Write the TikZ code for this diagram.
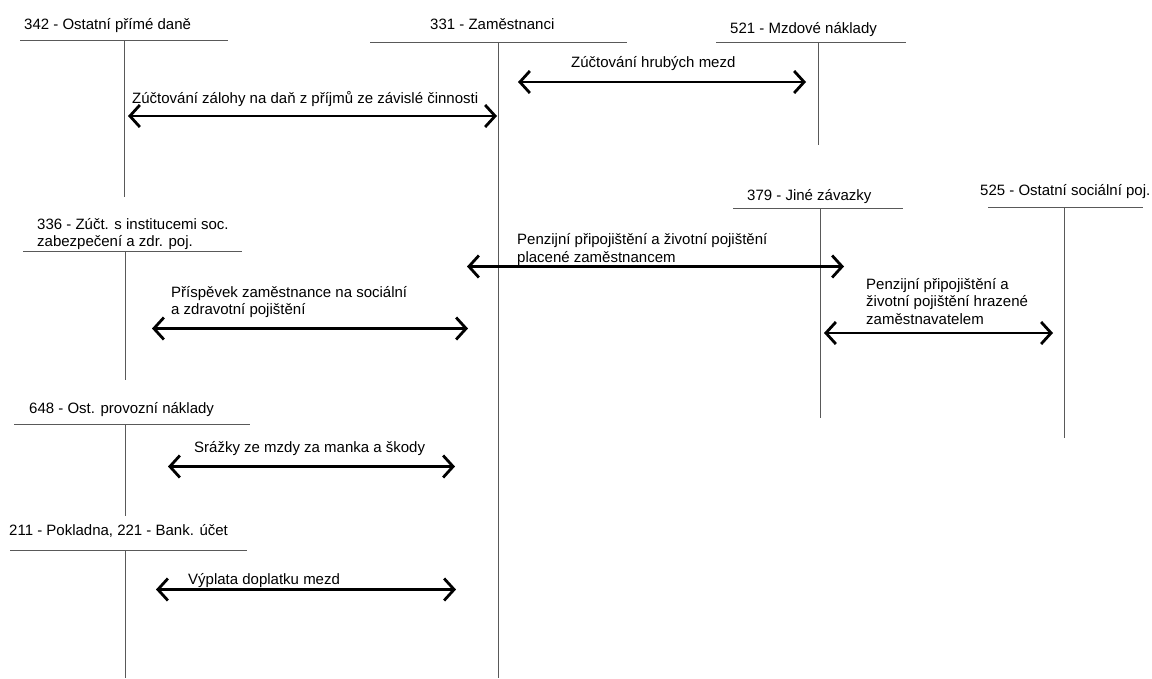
\documentclass[tikz,border=0pt]{standalone}
\usepackage{fontspec}
\setmainfont{Liberation Sans}
\usetikzlibrary{arrows.meta}

\tikzset{
	ucet/.style={draw=black!65,line width=1pt},
	pohyb/.style={line width=2.8pt,{Straight Barb[length=10pt,width=22pt]}-{Straight Barb[length=10pt,width=22pt]}},
	popis/.style={anchor=base west,inner sep=0pt,align=left,font=\fontsize{15}{17.5}\selectfont},
}

\begin{document}
\begin{tikzpicture}[x=1pt,y=-1pt]
	\useasboundingbox (0,0) rectangle (1152,678);
	% ucty
	\node [popis] (u342) at (24,29) {342 - Ostatní přímé daně};
	\draw [ucet] (20,40) -- (228,40) (124,40) -- (124,197);
	\node [popis] (u331) at (430,29) {331 - Zaměstnanci};
	\draw [ucet] (370,42) -- (627,42) (498,42) -- (498,678);
	\node [popis] (u521) at (730,33) {521 - Mzdové náklady};
	\draw [ucet] (716,42) -- (906,42) (818,42) -- (818,145);
	\node [popis] (u336) at (37,246.5) {336 - Zúčt. s institucemi soc.\\zabezpečení a zdr. poj.};
	\draw [ucet] (23,251) -- (242,251) (125,251) -- (125,380);
	\node [popis] (u379) at (747,200.5) {379 - Jiné závazky};
	\draw [ucet] (733,208) -- (903,208) (820,208) -- (820,418);
	\node [popis] (u525) at (980,195.5) {525 - Ostatní sociální poj.};
	\draw [ucet] (988,207) -- (1143,207) (1064,207) -- (1064,438);
	\node [popis] (u648) at (29,413.5) {648 - Ost. provozní náklady};
	\draw [ucet] (14,424) -- (250,424) (125,424) -- (125,516);
	\node [popis] (u211) at (9,535) {211 - Pokladna, 221 - Bank. účet};
	\draw [ucet] (10,550) -- (247,550) (125,550) -- (125,678);
	% pohyby
	\coordinate (a1) at (518,82);
	\coordinate (b1) at (806,82);
	\draw [pohyb] (a1) -- (b1);
	\node [popis] (t1) at (571,67.5) {Zúčtování hrubých mezd};
	\coordinate (a2) at (128,116);
	\coordinate (b2) at (497,116);
	\draw [pohyb] (a2) -- (b2);
	\node [popis] (t2) at (132,103) {Zúčtování zálohy na daň z příjmů ze závislé činnosti};
	\coordinate (a3) at (467,266.5);
	\coordinate (b3) at (844,266.5);
	\draw [pohyb] (a3) -- (b3);
	\node [popis] (t3) at (517,262) {Penzijní připojištění a životní pojištění\\placené zaměstnancem};
	\coordinate (a4) at (152,328.5);
	\coordinate (b4) at (468,328.5);
	\draw [pohyb] (a4) -- (b4);
	\node [popis] (t4) at (171,314.5) {Příspěvek zaměstnance na sociální\\a zdravotní pojištění};
	\coordinate (a5) at (824,333);
	\coordinate (b5) at (1053,333);
	\draw [pohyb] (a5) -- (b5);
	\node [popis] (t5) at (866,324) {Penzijní připojištění a\\životní pojištění hrazené\\zaměstnavatelem};
	\coordinate (a6) at (168,466.5);
	\coordinate (b6) at (455,466.5);
	\draw [pohyb] (a6) -- (b6);
	\node [popis] (t6) at (194,452) {Srážky ze mzdy za manka a škody};
	\coordinate (a7) at (156,589.5);
	\coordinate (b7) at (456,589.5);
	\draw [pohyb] (a7) -- (b7);
	\node [popis] (t7) at (188,584) {Výplata doplatku mezd};
\end{tikzpicture}
\end{document}
